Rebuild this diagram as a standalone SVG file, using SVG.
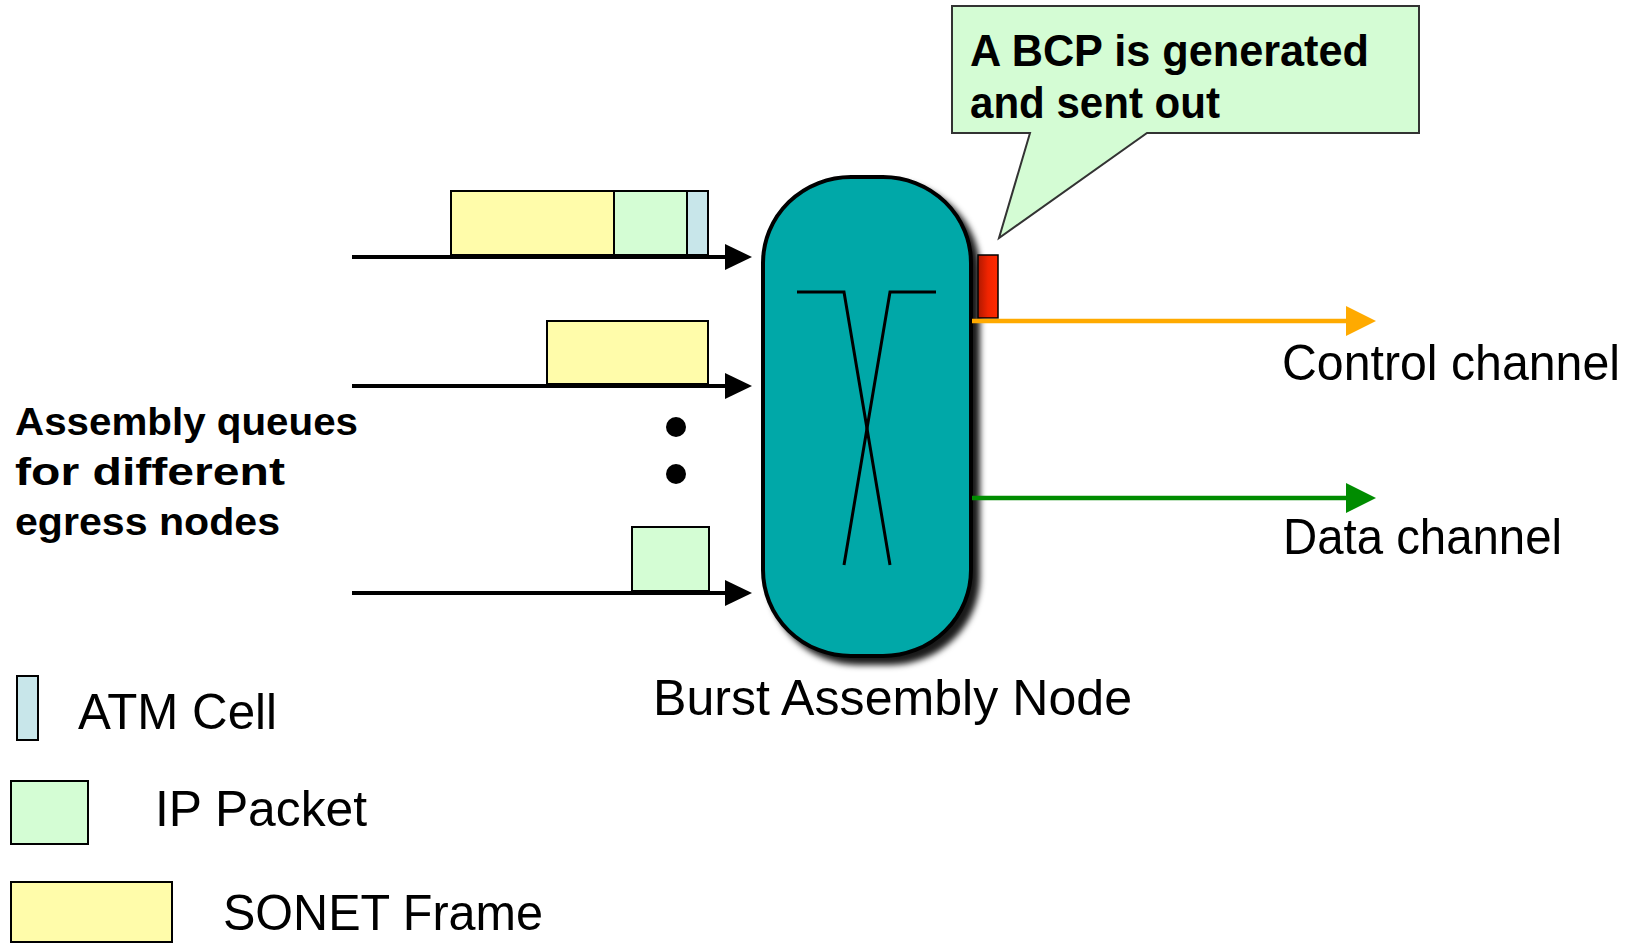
<svg xmlns="http://www.w3.org/2000/svg" width="1632" height="943" viewBox="0 0 1632 943">
  <style>
    .lbl { font-family: "Liberation Sans", Arial, sans-serif; font-size: 50px; fill: #000; }
    .bold { font-family: "Liberation Sans", Arial, sans-serif; font-weight: bold; fill: #000; }
    .sonet { fill: #FFFCAA; stroke: #000; stroke-width: 2; }
    .ip { fill: #D4FDD4; stroke: #000; stroke-width: 2; }
    .atm { fill: #C8E6EA; stroke: #000; stroke-width: 2; }
    .in { stroke: #000; stroke-width: 4; fill: none; }
  </style>
  <defs>
    <filter id="shadow" x="-20%" y="-10%" width="140%" height="120%">
      <feDropShadow dx="7" dy="7" stdDeviation="3" flood-color="#000" flood-opacity="0.9"/>
    </filter>
    <linearGradient id="red" x1="0" y1="0" x2="1" y2="0">
      <stop offset="0" stop-color="#B01800"/>
      <stop offset="0.5" stop-color="#F02400"/>
      <stop offset="1" stop-color="#FF2A00"/>
    </linearGradient>
  </defs>
  <rect width="1632" height="943" fill="#fff"/>

  <g id="callout">
    <path d="M952,6 H1419 V133 H1147 L999,238 L1030,133 H952 Z" fill="#D4FCD4" stroke="#333" stroke-width="2"/>
    <text class="bold" x="970" y="66" font-size="44" textLength="399" lengthAdjust="spacingAndGlyphs">A BCP is generated</text>
    <text class="bold" x="970" y="118" font-size="44" textLength="250" lengthAdjust="spacingAndGlyphs">and sent out</text>
  </g>

  <g id="queue1">
    <rect class="sonet" x="451" y="191" width="163" height="64"/>
    <rect class="ip" x="614" y="191" width="73" height="64"/>
    <rect class="atm" x="687" y="191" width="21" height="64"/>
  </g>
  <g id="queue2">
    <rect class="sonet" x="547" y="321" width="161" height="63"/>
  </g>
  <g id="queue3">
    <rect class="ip" x="632" y="527" width="77" height="64"/>
  </g>
  <g id="dots">
    <circle cx="676" cy="427" r="10" fill="#000"/>
    <circle cx="676" cy="474" r="10" fill="#000"/>
  </g>

  <g id="node">
    <rect x="763" y="177" width="208" height="479" rx="88" ry="86" fill="#00A8A8" stroke="#000" stroke-width="4" filter="url(#shadow)"/>
    <path d="M797,292 H844 L890,565" fill="none" stroke="#000" stroke-width="3"/>
    <path d="M936,292 H890 L844,565" fill="none" stroke="#000" stroke-width="3"/>
    <text class="lbl" x="653" y="715" textLength="479" lengthAdjust="spacingAndGlyphs">Burst Assembly Node</text>
  </g>

  <g id="bcp">
    <rect x="978" y="255" width="20" height="63" fill="url(#red)" stroke="#000" stroke-width="1.5"/>
  </g>

  <g id="connectors">
    <line class="in" x1="352" y1="257" x2="727" y2="257"/>
    <polygon points="725,244 752,257 725,270" fill="#000"/>
    <line class="in" x1="352" y1="386" x2="727" y2="386"/>
    <polygon points="725,373 752,386 725,399" fill="#000"/>
    <line class="in" x1="352" y1="593" x2="727" y2="593"/>
    <polygon points="725,580 752,593 725,606" fill="#000"/>

    <line x1="972" y1="321" x2="1348" y2="321" stroke="#FFAA00" stroke-width="4.5"/>
    <polygon points="1346,306 1376,321 1346,336" fill="#FFAA00"/>
    <line x1="972" y1="498" x2="1348" y2="498" stroke="#008C00" stroke-width="4.5"/>
    <polygon points="1346,483 1376,498 1346,513" fill="#008C00"/>
  </g>

  <g id="labels">
    <text class="lbl" x="1282" y="380" textLength="338" lengthAdjust="spacingAndGlyphs">Control channel</text>
    <text class="lbl" x="1283" y="554" textLength="279" lengthAdjust="spacingAndGlyphs">Data channel</text>
    <text class="bold" x="15" y="435" font-size="39" textLength="343" lengthAdjust="spacingAndGlyphs">Assembly queues</text>
    <text class="bold" x="15" y="485" font-size="39" textLength="270" lengthAdjust="spacingAndGlyphs">for different</text>
    <text class="bold" x="15" y="535" font-size="39" textLength="265" lengthAdjust="spacingAndGlyphs">egress nodes</text>
  </g>

  <g id="legend">
    <rect class="atm" x="17" y="676" width="21" height="64"/>
    <text class="lbl" x="78" y="729" textLength="199" lengthAdjust="spacingAndGlyphs">ATM Cell</text>
    <rect class="ip" x="11" y="781" width="77" height="63"/>
    <text class="lbl" x="155" y="826" textLength="212" lengthAdjust="spacingAndGlyphs">IP Packet</text>
    <rect class="sonet" x="11" y="882" width="161" height="60"/>
    <text class="lbl" x="223" y="930" textLength="320" lengthAdjust="spacingAndGlyphs">SONET Frame</text>
  </g>
</svg>
